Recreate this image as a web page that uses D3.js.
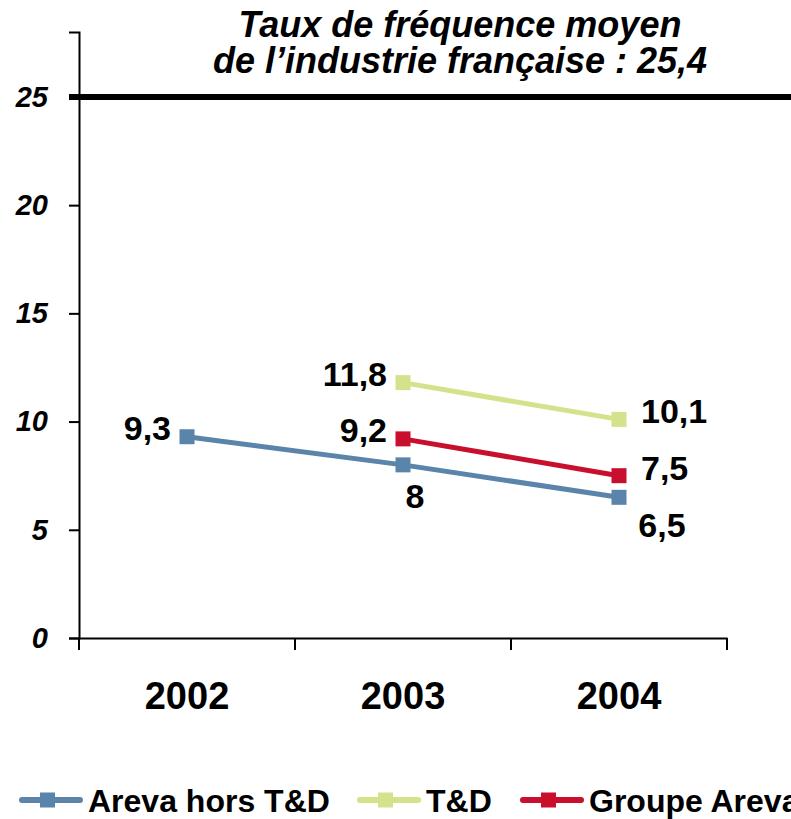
<!DOCTYPE html>
<html>
<head>
<meta charset="utf-8">
<script src="https://cdn.jsdelivr.net/npm/d3@7"></script>
<style>
  body { margin: 0; background: #fff; overflow: hidden; }
  svg { font-family: Arial, "Liberation Sans", sans-serif; display: block; }
</style>
</head>
<body>
<script>
// data
var years = ["2002", "2003", "2004"];
var seriesNames = ["Areva hors T&D", "T&D", "Groupe Areva"];
var arevaHorsTD = [9.3, 8, 6.5];
var tdValues = [null, 11.8, 10.1];
var groupeAreva = [null, 9.2, 7.5];
var yTicks = [0, 5, 10, 15, 20, 25];
var industryRate = 25;
var titleLines = ["Taux de fréquence moyen", "de l\u2019industrie française : 25,4"];

var colors = ["#5b84aa", "#d3e38b", "#c8102e"];
// where each value label sits relative to its marker
var labelPos = [
  ["left", "below", "belowRight"],
  [null, "left", "right"],
  [null, "left", "right"]
];

var svgWidth = 791;
var svgHeight = 819;

var svg = d3.select("body")
  .append("svg")
  .attr("width", svgWidth)
  .attr("height", svgHeight);

var x = d3.scaleBand()
  .domain(years)
  .range([79, 727]);

var y = d3.scaleLinear()
  .domain([0, 28])
  .range([638, 32]);

// y axis
var yAxis = svg.append("g")
  .attr("transform", "translate(79,0)")
  .call(d3.axisLeft(y).tickValues(yTicks).tickSize(10).tickPadding(21));
yAxis.select(".domain").attr("stroke-width", 2);
yAxis.selectAll(".tick line").attr("stroke-width", 2);
yAxis.selectAll("text")
  .attr("font-size", 29)
  .attr("font-weight", "bold")
  .attr("font-style", "italic")
  .attr("fill", "#000");

// x axis
var xAxis = svg.append("g")
  .attr("transform", "translate(0,638)")
  .call(d3.axisBottom(x).tickSize(0).tickPadding(44));
xAxis.select(".domain").attr("stroke-width", 2);
xAxis.selectAll("text")
  .attr("font-size", 38)
  .attr("font-weight", "bold")
  .attr("fill", "#000");

// category separator ticks
var bounds = years.map(d => x(d)).concat([x.range()[1]]);
svg.append("g").selectAll("line")
  .data(bounds)
  .enter()
  .append("line")
  .attr("x1", d => d)
  .attr("x2", d => d)
  .attr("y1", 638)
  .attr("y2", 650)
  .attr("stroke", "#000")
  .attr("stroke-width", 2);

// industry average line
svg.append("line")
  .attr("x1", 69)
  .attr("x2", svgWidth)
  .attr("y1", y(industryRate))
  .attr("y2", y(industryRate))
  .attr("stroke", "#000")
  .attr("stroke-width", 6);

// title
svg.append("g").selectAll("text")
  .data(titleLines)
  .enter()
  .append("text")
  .attr("x", 460)
  .attr("y", (d, i) => 37 + i * 36)
  .attr("text-anchor", "middle")
  .attr("font-size", 36)
  .attr("font-weight", "bold")
  .attr("font-style", "italic")
  .text(d => d);

// series
var allSeries = [arevaHorsTD, tdValues, groupeAreva];
var cx = d => x(d) + x.bandwidth() / 2;

var line = d3.line()
  .defined(d => d.v != null)
  .x(d => cx(d.year))
  .y(d => y(d.v));

allSeries.forEach(function(vals, s) {
  var pts = vals.map((v, i) => ({ year: years[i], v: v, pos: labelPos[s][i] }));
  var g = svg.append("g");
  g.append("path")
    .datum(pts)
    .attr("d", line)
    .attr("fill", "none")
    .attr("stroke", colors[s])
    .attr("stroke-width", 5);
  var valid = pts.filter(d => d.v != null);
  g.selectAll("rect")
    .data(valid)
    .enter()
    .append("rect")
    .attr("x", d => cx(d.year) - 7.5)
    .attr("y", d => y(d.v) - 7.5)
    .attr("width", 15)
    .attr("height", 15)
    .attr("fill", colors[s]);
  g.selectAll("text")
    .data(valid)
    .enter()
    .append("text")
    .attr("x", function(d) {
      if (d.pos == "left") return cx(d.year) - 16;
      if (d.pos == "right") return cx(d.year) + 22;
      if (d.pos == "belowRight") return cx(d.year) + 43;
      return cx(d.year) + 12;
    })
    .attr("y", function(d) {
      if (d.pos == "below") return y(d.v) + 43;
      if (d.pos == "belowRight") return y(d.v) + 40;
      if (d.pos == "right") return y(d.v) + 4;
      return y(d.v) + 3;
    })
    .attr("text-anchor", function(d) {
      if (d.pos == "left") return "end";
      if (d.pos == "right") return "start";
      return "middle";
    })
    .attr("font-size", 34)
    .attr("font-weight", "bold")
    .text(d => String(d.v).replace(".", ","));
});

// legend
var legendX = [20, 358, 521];
var legend = svg.append("g").selectAll("g")
  .data(seriesNames)
  .enter()
  .append("g")
  .attr("transform", (d, i) => `translate(${legendX[i]},800)`);
legend.append("line")
  .attr("x1", 2)
  .attr("x2", 60)
  .attr("stroke", (d, i) => colors[i])
  .attr("stroke-width", 6)
  .attr("stroke-linecap", "round");
legend.append("rect")
  .attr("x", 20)
  .attr("y", -7.5)
  .attr("width", 15)
  .attr("height", 15)
  .attr("fill", (d, i) => colors[i]);
legend.append("text")
  .attr("x", 68)
  .attr("y", 12)
  .attr("font-size", 32)
  .attr("font-weight", "bold")
  .text(d => d);
</script>
</body>
</html>
